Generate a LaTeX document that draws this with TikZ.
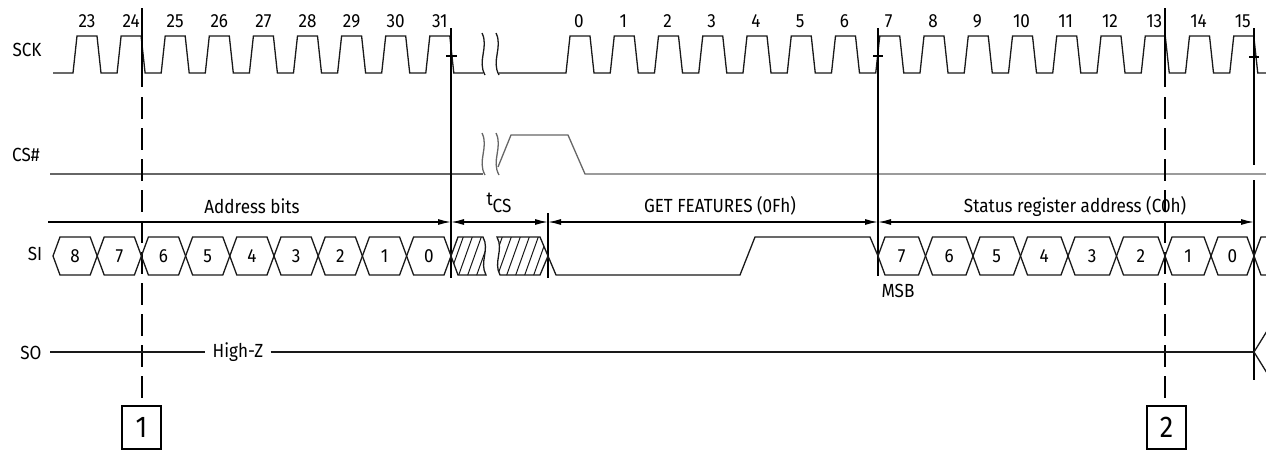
\documentclass[tikz,border=0pt]{standalone}
\usepackage{fontspec}
\setmainfont{Fira Sans}[FakeStretch=0.9]
\usetikzlibrary{arrows.meta}
\begin{document}
\begin{tikzpicture}[x=1pt,y=-1pt,
  sig/.style={line width=1.3pt, line join=miter, black!90},
  csig/.style={line width=1.3pt, black!60},
  marker/.style={line width=1.3pt, black},
  dmark/.style={line width=1.3pt, black, dash pattern=on 22pt off 9pt},
  dim/.style={line width=1.3pt, black, {Latex[length=13pt,width=6pt]}-{Latex[length=13pt,width=6pt]}},
  dimr/.style={line width=1.3pt, black, -{Latex[length=13pt,width=6pt]}},
  txt/.style={font=\fontsize{19}{22}\selectfont, inner sep=0pt, text=black},
  boxnum/.style={draw, line width=1.3pt, minimum width=39pt, minimum height=43pt, inner sep=0pt, font=\fontsize{30}{32}\selectfont},
  hatch/.style={line width=1pt, black!90}
]
\useasboundingbox (0,0) rectangle (1266,450);

% ---------- signal names ----------
\node[txt] (sck) at (27,50) {SCK};
\node[txt] (cs) at (26,155) {CS\#};
\node[txt] (si) at (35,254) {SI};
\node[txt] (so) at (31,353) {SO};

% ---------- SCK ----------
\draw[sig] (53,73) foreach \i [evaluate=\i as \c using 87+44.1*\i] in {0,...,8}
  { -- ({\c-14},73) -- ({\c-10},36) -- ({\c+10},36) -- ({\c+14},73) } -- (483,73);
\draw[sig] (499,73) foreach \i [evaluate=\i as \c using 580+44.25*\i] in {0,...,15}
  { -- ({\c-14},73) -- ({\c-10},36) -- ({\c+10},36) -- ({\c+14},73) } -- (1266,73);
\foreach \n [count=\i from 0] in {23,...,31}
  \node[txt] (k\n) at ({87+44.1*\i},21) {\n};
\foreach \n [count=\i from 0] in {0,...,15}
  \node[txt] (j\n) at ({579+44.25*\i},21) {\n};
% break marks on SCK
\draw[sig] (482,33) .. controls (489,47) and (477,61) .. (485,75);
\draw[sig] (496,33) .. controls (503,47) and (491,61) .. (499,75);

% ---------- CS# ----------
\draw[csig] (50,174) -- (483,174);
\draw[csig] (482,133) .. controls (489,147) and (477,161) .. (485,175);
\draw[csig] (496,133) .. controls (503,147) and (491,161) .. (499,175);
\draw[csig] (498,167) -- (511,135) -- (568,135) -- (585,174) -- (1266,174);

% ---------- marker lines ----------
\coordinate (m0) at (48,222);
\coordinate (m1) at (451,222);
\coordinate (m2) at (548,222);
\coordinate (m3) at (878,222);
\coordinate (m4) at (1254,222);
\draw[marker] (451,28) -- (451,278);
\draw[marker] (446,56) -- (457,56);
\draw[marker] (878,28) -- (878,276);
\draw[marker] (873,56) -- (883,56);
\draw[marker] (1254,28) -- (1254,165);
\draw[marker] (1254,180) -- (1254,380);
\draw[marker] (1249,57) -- (1259,57);
\draw[marker] (548,213) -- (548,278);
\draw[marker] (142,8) -- (142,87);
\draw[dmark] (142,97) -- (142,398);
\draw[marker] (1165,8) -- (1165,87);
\draw[dmark] (1165,97) -- (1165,398);

% ---------- dimension arrows ----------
\draw[dimr] (m0) -- (m1);
\draw[dim] (m1) -- (m2);
\draw[dim] (m2) -- (m3);
\draw[dim] (m3) -- (m4);
\node[txt] (addr) at (252,206) {Address bits};
\node[txt] (tcs) at (499,203) {t\raisebox{-0.38em}{CS}};
\node[txt] (getf) at (720,206) {GET FEATURES (0Fh)};
\node[txt] (stat) at (1075,206) {Status register address (C0h)};
\node[txt] (msb) at (898,291) {MSB};

% ---------- SI ----------
\foreach \a/\b/\t in {53/97.2/8, 97.2/141.4/7, 141.4/185.6/6, 185.6/229.8/5, 229.8/274/4,
  274/318.2/3, 318.2/362.4/2, 362.4/406.6/1, 406.6/451/0,
  878/925.5/7, 925.5/973/6, 973/1020.5/5, 1020.5/1068/4, 1068/1116.5/3, 1116.5/1165/2,
  1165/1211/1, 1211/1254/0}
{
  \draw[sig] (\a,256) -- ({\a+7},237) -- ({\b-7},237) -- (\b,256) -- ({\b-7},275) -- ({\a+7},275) -- cycle;
  \node[txt] (b\a) at ({(\a+\b)/2},256) {\t};
}
% hatched block A
\begin{scope}
  \clip (451,256) -- (458,237) -- (483,237) .. controls (490,250) and (479,262) .. (486,275) -- (458,275) -- cycle;
  \foreach \x in {440,449,...,490} \draw[hatch] (\x,277) -- ({\x+15},235);
\end{scope}
\draw[sig] (451,256) -- (458,237) -- (483,237) .. controls (490,250) and (479,262) .. (486,275) -- (458,275) -- cycle;
% hatched block B
\begin{scope}
  \clip (497,237) .. controls (504,250) and (493,262) .. (500,275) -- (540,275) -- (548,256) -- (540,237) -- cycle;
  \foreach \x in {488,497,...,550} \draw[hatch] (\x,277) -- ({\x+15},235);
\end{scope}
\draw[sig] (497,237) .. controls (504,250) and (493,262) .. (500,275) -- (540,275) -- (548,256) -- (540,237) -- cycle;
% GET FEATURES waveform
\draw[sig] (548,256) -- (556,275) -- (740,275) -- (755,237) -- (870,237) -- (878,256);
% end of SI
\draw[sig] (1254,256) -- (1261,237) -- (1266,237);
\draw[sig] (1254,256) -- (1261,275) -- (1266,275);

% ---------- SO ----------
\node[txt, inner xsep=7pt] (hz) at (238,352) {High-Z};
\coordinate (soa) at (50,352);
\coordinate (sob) at (1254,352);
\draw[sig] (soa) -- (hz.west);
\draw[sig] (hz.east) -- (sob);
\draw[sig] (sob) -- (1267,331);
\draw[sig] (sob) -- (1267,373);

% ---------- numbered boxes ----------
\node[boxnum] (n1) at (141.5,427.5) {1};
\node[boxnum] (n2) at (1166.5,427.5) {2};
\end{tikzpicture}
\end{document}
